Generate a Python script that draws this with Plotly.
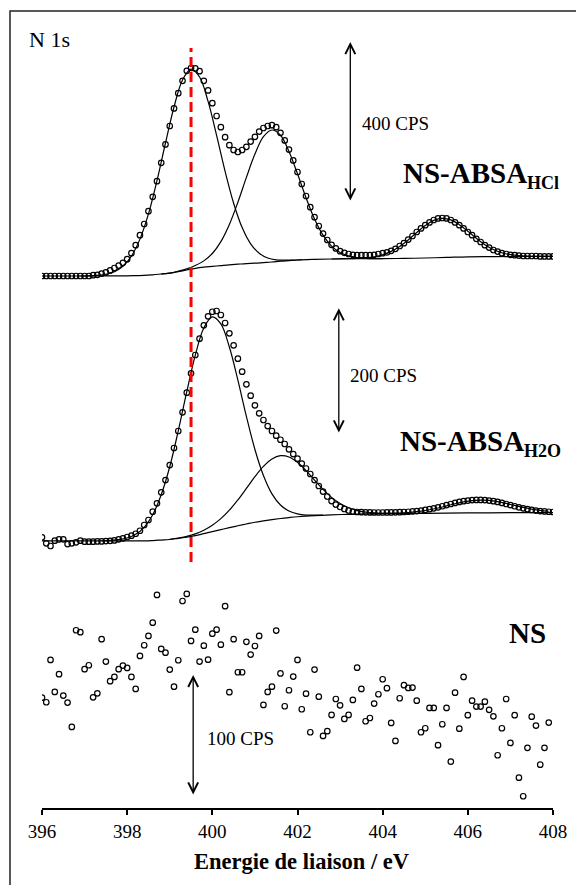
import plotly.graph_objects as go

# ---------------- data ----------------
# energy grid of the measured spectra (0.1 eV step)
E_HCL = [round(396.0 + 0.1 * i, 1) for i in range(121)]
E_H2O = [round(396.0 + 0.1 * i, 1) for i in range(121)]
E_NS = [round(396.0 + 0.1 * i, 1) for i in range(120)]

# NS-ABSA_HCl measured counts (CPS)
HCL_DATA = [1330, 1330, 1330, 1330, 1330, 1330, 1330, 1330, 1330, 1330,
            1330, 1330, 1332, 1333, 1336, 1339, 1344, 1350, 1356, 1363,
            1372, 1387, 1407, 1432, 1460, 1492, 1528, 1567, 1613, 1659,
            1705, 1749, 1787, 1818, 1843, 1850, 1849, 1842, 1818, 1794,
            1762, 1730, 1702, 1677, 1657, 1645, 1640, 1645, 1653, 1666,
            1678, 1691, 1700, 1705, 1707, 1702, 1688, 1669, 1646, 1619,
            1590, 1560, 1530, 1502, 1477, 1455, 1436, 1420, 1408, 1399,
            1392, 1388, 1385, 1383, 1382, 1382, 1382, 1382, 1383, 1385,
            1387, 1389, 1393, 1398, 1405, 1412, 1421, 1430, 1440, 1449,
            1457, 1464, 1470, 1474, 1475, 1474, 1470, 1464, 1457, 1449,
            1440, 1432, 1423, 1415, 1407, 1401, 1395, 1391, 1387, 1385,
            1383, 1382, 1381, 1380, 1380, 1380, 1380, 1379, 1379, 1379,
            1379]
HCL_BG_E = [396.0, 397.0, 398.0, 398.2, 398.4, 398.6, 398.8, 399.0, 399.2, 399.4,
            399.6, 399.8, 400.0, 400.2, 400.4, 400.6, 400.8, 401.0, 401.2, 401.4,
            401.6, 401.8, 402.0, 402.4, 402.8, 403.2, 403.6, 404.0, 404.5, 405.0,
            405.5, 406.0, 406.5, 407.0, 408.0]
HCL_BG = [1330, 1330, 1330.5, 1331, 1331.5, 1333, 1335, 1337, 1341, 1345,
          1349, 1352, 1354, 1356, 1358, 1359.5, 1361, 1362, 1363.5, 1365,
          1367, 1368.5, 1370, 1371.5, 1372.5, 1373.2, 1373.4, 1373.5, 1374, 1375,
          1376.5, 1378, 1378.5, 1378.7, 1379]
HCL_P1_START = 396.9
HCL_P1 = [1330.0, 1330.5, 1331.7, 1334.4, 1340.9, 1354.3, 1379.8, 1422.2, 1485.2, 1568.5,
          1662.5, 1752.5, 1820.0, 1847.0, 1827.5, 1766.5, 1681.5, 1591.5, 1512.0, 1451.0,
          1410.5, 1387.0, 1374.9, 1370.4, 1369.7, 1369.5, 1370.6]
HCL_P2_START = 398.8
HCL_P2 = [1335.1, 1337.4, 1342.1, 1347.9, 1356.2, 1367.8, 1386.3, 1416.0, 1459.0, 1514.3,
          1576.5, 1634.9, 1678.3, 1695.0, 1681.8, 1641.4, 1585.5, 1525.8, 1472.5, 1432.0,
          1404.8, 1388.8, 1380.2, 1376.0, 1374.2, 1373.5, 1373.6]
HCL_P3_START = 402.8
HCL_P3 = [1372.5, 1373.1, 1373.5, 1374.2, 1375.5, 1378.2, 1383.1, 1391.6, 1403.9, 1420.2,
          1438.6, 1456.0, 1469.1, 1474.2, 1470.3, 1458.4, 1442.0, 1424.2, 1408.4, 1396.3,
          1388.2, 1383.4, 1380.9, 1379.8, 1379.2, 1379.1, 1379.0]

# NS-ABSA_H2O measured counts (CPS)
H2O_DATA = [431.0, 421.5, 417.2, 425.6, 427.8, 427.8, 420.3, 421.5, 423.0, 425.6,
            424.0, 424.0, 424.0, 424.5, 424.5, 425.0, 425.5, 426.0, 427.8, 429.4,
            431.5, 433.6, 436.7, 441.5, 450.6, 458.6, 471.8, 485.1, 502.7, 522.2,
            546.1, 573.2, 600.3, 630.1, 661.3, 692.2, 721.3, 747.3, 768.6, 782.9,
            790.2, 791.4, 785.0, 772.3, 755.9, 736.7, 715.4, 694.7, 674.6, 656.5,
            641.2, 628.5, 617.8, 608.2, 600.3, 592.8, 586.4, 579.6, 571.1, 563.6,
            556.2, 548.5, 540.6, 531.8, 522.2, 512.7, 503.9, 496.0, 488.8, 483.2,
            479.3, 476.1, 473.7, 472.1, 471.3, 471.0, 470.8, 470.6, 470.5, 470.5,
            470.5, 470.6, 470.7, 470.8, 471.0, 471.3, 471.7, 472.2, 472.8, 473.6,
            474.6, 475.8, 477.2, 478.8, 480.5, 482.3, 484.1, 485.8, 487.3, 488.6,
            489.6, 490.3, 490.6, 490.6, 490.3, 489.6, 488.6, 487.3, 485.8, 484.1,
            482.3, 480.5, 478.8, 477.2, 475.8, 474.6, 473.6, 472.8, 472.2, 471.7,
            471.3]
H2O_BG_E = [396.0, 398.5, 398.6, 398.8, 399.0, 399.2, 399.4, 399.6, 399.8, 400.0,
            400.2, 400.4, 400.6, 400.8, 401.0, 401.2, 401.4, 401.6, 401.8, 402.0,
            402.4, 402.8, 403.2, 403.6, 404.0, 405.0, 406.0, 407.0, 408.0]
H2O_BG = [425.5, 425.5, 425.9, 426.7, 427.5, 429.3, 431.1, 433.6, 436.8, 440.0,
          443.2, 446.4, 449.4, 452.2, 455.0, 457.2, 459.2, 461.0, 462.5, 463.8,
          465.6, 466.8, 467.7, 468.3, 468.7, 469.2, 469.8, 470.2, 470.4]
H2O_P1_START = 397.4
H2O_P1 = [425.7, 426.2, 427.3, 430.0, 435.8, 447.0, 466.9, 498.9, 543.4, 600.6,
          663.0, 721.2, 764.4, 782.0, 770.8, 734.0, 681.3, 623.5, 570.9, 529.4,
          500.2, 482.5, 472.8, 468.3, 466.5, 466.3, 466.4]
H2O_P2_START = 399.0
H2O_P2 = [427.8, 429.9, 432.5, 436.5, 442.4, 450.3, 460.7, 474.2, 490.5, 508.8,
          527.6, 543.9, 555.7, 561.0, 559.0, 550.5, 537.3, 522.2, 507.3, 494.6,
          484.8, 478.0, 473.6, 471.2, 469.9, 469.3, 469.0]
H2O_P3_START = 403.7
H2O_P3 = [468.4, 468.7, 469.0, 469.4, 470.0, 471.1, 472.7, 474.9, 477.7, 481.0,
          484.4, 487.4, 489.5, 490.3, 489.7, 487.8, 485.0, 481.8, 478.6, 476.0,
          473.9, 472.5]

# NS measured counts (CPS)
NS_DATA = [91.2, 87.4, 122.4, 95.9, 110.6, 92.9, 87.1, 67.0, 146.9, 145.3,
           114.7, 118.0, 91.5, 94.8, 139.5, 121.0, 104.8, 108.3, 114.7, 117.7,
           115.8, 108.3, 98.4, 125.7, 134.5, 142.2, 153.2, 176.1, 131.5, 128.4,
           114.4, 100.3, 122.1, 171.1, 176.9, 138.1, 147.4, 121.0, 134.2, 122.6,
           144.1, 147.4, 135.0, 166.8, 95.7, 139.5, 112.2, 112.2, 137.3, 126.8,
           133.9, 142.2, 85.2, 95.9, 100.3, 146.6, 111.2, 84.1, 97.3, 108.6,
           122.4, 81.6, 94.5, 62.6, 114.4, 92.0, 59.6, 63.5, 76.9, 90.1,
           84.9, 73.6, 76.9, 89.3, 116.0, 98.4, 71.7, 74.4, 86.3, 94.0,
           106.4, 99.0, 70.3, 55.4, 90.7, 101.5, 99.2, 99.5, 88.7, 62.6,
           65.9, 82.7, 82.7, 51.9, 69.2, 82.7, 38.3, 95.3, 65.6, 108.3,
           76.7, 88.7, 83.8, 83.8, 87.9, 81.1, 75.8, 43.6, 65.9, 90.1,
           53.8, 76.7, 25.1, 9.7, 49.7, 75.5, 68.1, 35.8, 49.7, 70.6]

TICKS = [396, 398, 400, 402, 404, 406, 408]
REF_ENERGY = 399.5
X_TITLE = "Energie de liaison / eV"


def grid(start, n, step=0.2):
    return [round(start + step * i, 2) for i in range(n)]


SERIF = "Liberation Serif, Times New Roman, serif"
LINE = dict(color="black", width=1.2)
MARK = dict(symbol="circle-open", size=5.5, color="black", line=dict(color="black", width=1.2))

fig = go.Figure()

# HCl panel (yaxis y)
for xs, ys in [(HCL_BG_E, HCL_BG),
               (grid(HCL_P1_START, len(HCL_P1)), HCL_P1),
               (grid(HCL_P2_START, len(HCL_P2)), HCL_P2),
               (grid(HCL_P3_START, len(HCL_P3)), HCL_P3)]:
    fig.add_trace(go.Scatter(x=xs, y=ys, mode="lines", line=dict(LINE, shape="spline"),
                             yaxis="y", showlegend=False, hoverinfo="skip"))
fig.add_trace(go.Scatter(x=E_HCL, y=HCL_DATA, mode="markers", marker=MARK, yaxis="y",
                         showlegend=False))

# H2O panel (yaxis y2)
for xs, ys in [(H2O_BG_E, H2O_BG),
               (grid(H2O_P1_START, len(H2O_P1)), H2O_P1),
               (grid(H2O_P2_START, len(H2O_P2)), H2O_P2),
               (grid(H2O_P3_START, len(H2O_P3)), H2O_P3)]:
    fig.add_trace(go.Scatter(x=xs, y=ys, mode="lines", line=dict(LINE, shape="spline"),
                             yaxis="y2", showlegend=False, hoverinfo="skip"))
fig.add_trace(go.Scatter(x=E_H2O, y=H2O_DATA, mode="markers", marker=MARK, yaxis="y2",
                         showlegend=False))

# NS panel (yaxis y3)
fig.add_trace(go.Scatter(x=E_NS, y=NS_DATA, mode="markers", marker=MARK, yaxis="y3",
                         showlegend=False))

# red dashed reference line
fig.add_shape(type="line", xref="x", yref="paper", x0=REF_ENERGY, x1=REF_ENERGY,
              y0=0.3045, y1=0.9406, line=dict(color="#ff0000", width=3, dash="10px,5px"))
# outer frame
fig.add_shape(type="rect", xref="paper", yref="paper", x0=-0.0626, x1=1.2, y0=-0.3, y1=0.9864,
              line=dict(color="#222222", width=1.5), fillcolor="rgba(0,0,0,0)")


def scale_arrow(x, y_top, y_bot, yref):
    fig.add_annotation(x=x, y=y_top, ax=x, ay=y_bot, xref="x", yref=yref, axref="x", ayref=yref,
                       text="", showarrow=True, arrowhead=5, startarrowhead=5,
                       arrowside="end+start", arrowsize=1.5, startarrowsize=1.5,
                       arrowwidth=1.3, arrowcolor="black", standoff=0, startstandoff=0)


scale_arrow(403.24, 1915, 1515, "y")
scale_arrow(402.97, 795.7, 595.5, "y2")
scale_arrow(399.55, 110.0, 10.0, "y3")

txt = dict(family=SERIF, size=19, color="black")
big = dict(family=SERIF, size=29, color="black")
SUB = '<sub><span style="font-size:18px">{}</span></sub>'
fig.add_annotation(x=403.46, y=1711, xref="x", yref="y", text="400 CPS", showarrow=False,
                   xanchor="left", yanchor="middle", font=txt)
fig.add_annotation(x=403.19, y=689.4, xref="x", yref="y2", text="200 CPS", showarrow=False,
                   xanchor="left", yanchor="middle", font=txt)
fig.add_annotation(x=399.82, y=57.7, xref="x", yref="y3", text="100 CPS", showarrow=False,
                   xanchor="left", yanchor="middle", font=txt)
fig.add_annotation(x=404.42, y=1582, xref="x", yref="y", text="<b>NS-ABSA" + SUB.format("HCl") + "</b>",
                   showarrow=False, xanchor="left", yanchor="middle", font=big)
fig.add_annotation(x=404.36, y=581, xref="x", yref="y2", text="<b>NS-ABSA" + SUB.format("H2O") + "</b>",
                   showarrow=False, xanchor="left", yanchor="middle", font=big)
fig.add_annotation(x=406.93, y=144.7, xref="x", yref="y3", text="<b>NS</b>",
                   showarrow=False, xanchor="left", yanchor="middle", font=big)
fig.add_annotation(x=-0.0294, y=0.9505, xref="paper", yref="paper", text="N 1s",
                   showarrow=False, xanchor="left", yanchor="middle",
                   font=dict(family=SERIF, size=22, color="black"))
fig.add_annotation(x=0.508, y=-0.0656, xref="paper", yref="paper", text="<b>" + X_TITLE + "</b>",
                   showarrow=False, xanchor="center", yanchor="middle",
                   font=dict(family=SERIF, size=22.5, color="black"))

fig.update_layout(
    width=576, height=885,
    margin=dict(l=42, r=23, t=0, b=77),
    paper_bgcolor="white", plot_bgcolor="white",
    xaxis=dict(range=[396, 408], tickvals=TICKS, ticktext=[str(t) for t in TICKS],
               ticks="outside", ticklen=5, tickwidth=1.5, tickcolor="black",
               showline=True, linewidth=1.5, linecolor="black", showgrid=False, zeroline=False,
               tickfont=dict(family=SERIF, size=19, color="black")),
    yaxis=dict(range=[0, 2020], visible=False, domain=[0, 1]),
    yaxis2=dict(range=[0, 1286.6], visible=False, overlaying="y"),
    yaxis3=dict(range=[0, 667.8], visible=False, overlaying="y"),
)

fig.write_html("out.html")
